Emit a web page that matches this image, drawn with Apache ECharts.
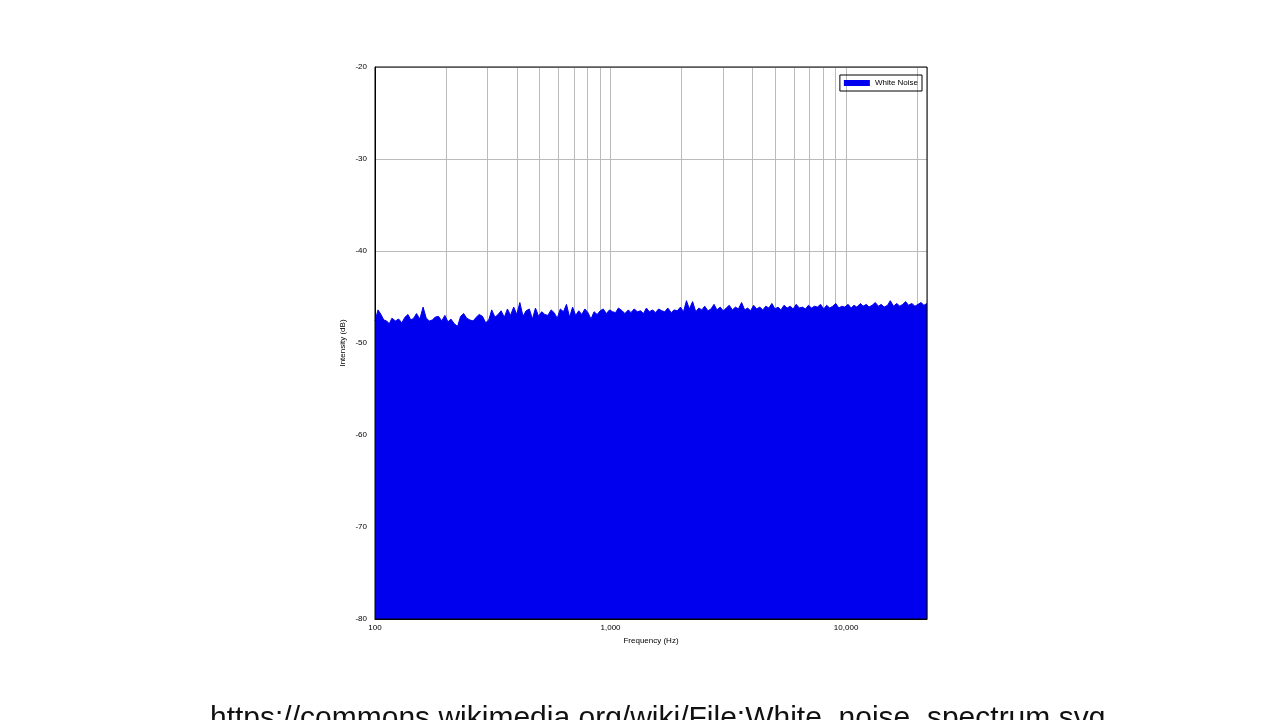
<!DOCTYPE html>
<html><head><meta charset="utf-8">
<script src="https://cdn.jsdelivr.net/npm/echarts@6/dist/echarts.min.js"></script>
<style>html,body{margin:0;padding:0;background:#fff;overflow:hidden}#c{width:1280px;height:720px}</style>
</head><body><div id="c"></div>
<script>
const freqs=[100,103,106,109,112,115,118,122,126,130,134,138,142,146,150,155,160,165,170,175,180,186,192,198,204,210,217,224,231,238,245,253,261,269,277,286,295,304,313,323,333,343,354,365,376,388,400,412,425,438,452,466,480,495,510,526,542,559,576,594,612,631,650,670,690,711,733,755,778,802,826,851,877,904,931,960,990,1020,1050,1080,1120,1150,1190,1220,1260,1300,1340,1380,1420,1460,1510,1550,1600,1650,1700,1750,1810,1860,1920,1980,2040,2100,2160,2230,2300,2370,2440,2510,2590,2670,2750,2830,2920,3010,3100,3190,3290,3390,3490,3600,3710,3820,3930,4050,4170,4300,4430,4560,4700,4840,4990,5140,5290,5450,5620,5790,5960,6140,6330,6520,6720,6920,7130,7340,7560,7790,8030,8270,8520,8780,9040,9310,9590,9880,10200,10500,10800,11100,11500,11800,12200,12500,12900,13300,13700,14100,14500,15000,15400,15900,16400,16900,17400,17900,18400,19000,19600,20200,20800,21400,22050];
const intensity=[-47.6,-46.4,-46.9,-47.5,-47.6,-47.9,-47.3,-47.6,-47.4,-47.8,-47.2,-46.9,-47.5,-47.3,-46.8,-47.4,-46.1,-47.3,-47.6,-47.5,-47.2,-47.1,-47.6,-47.0,-47.7,-47.4,-47.9,-48.2,-47.1,-46.8,-47.3,-47.5,-47.6,-47.2,-46.9,-47.1,-47.8,-47.5,-46.4,-47.2,-46.9,-46.5,-47.2,-46.3,-47.0,-46.1,-46.9,-45.6,-47.1,-46.5,-46.3,-47.4,-46.2,-47.1,-46.6,-46.9,-47.0,-46.4,-46.7,-47.3,-46.3,-46.6,-45.8,-47.2,-46.1,-47.0,-46.5,-46.9,-46.3,-46.7,-47.4,-46.6,-46.9,-46.5,-46.3,-46.8,-46.4,-46.6,-46.7,-46.2,-46.5,-46.8,-46.4,-46.7,-46.3,-46.6,-46.5,-46.8,-46.2,-46.6,-46.4,-46.7,-46.3,-46.5,-46.6,-46.2,-46.7,-46.4,-46.5,-46.1,-46.6,-45.4,-46.3,-45.5,-46.6,-46.2,-46.4,-46.0,-46.5,-46.3,-45.8,-46.4,-46.1,-46.5,-46.2,-45.9,-46.4,-46.1,-46.3,-45.6,-46.4,-46.2,-46.5,-45.9,-46.3,-46.1,-46.4,-46.0,-46.2,-45.7,-46.3,-46.1,-46.4,-45.9,-46.2,-46.0,-46.3,-45.8,-46.2,-46.1,-46.3,-45.9,-46.2,-46.0,-46.1,-45.8,-46.3,-45.9,-46.2,-46.0,-45.7,-46.2,-46.0,-46.1,-45.8,-46.2,-45.9,-46.1,-45.7,-46.0,-45.8,-46.1,-45.9,-45.6,-46.0,-45.8,-46.1,-45.9,-45.4,-46.0,-45.7,-46.0,-45.8,-45.5,-45.9,-45.7,-46.0,-45.8,-45.6,-45.9,-45.7,-45.5,-45.9,-45.7];
const minorGrid=[200,300,400,500,600,700,800,900,2000,3000,4000,5000,6000,7000,8000,9000,20000];
const yTicks={min:-80,max:-20,interval:10};
const f='"Liberation Sans", Arial, sans-serif';
const chart=echarts.init(document.getElementById('c'));
chart.setOption({
  animation:false,
  grid:{left:375,top:67,width:552,height:552},
  legend:{right:358,top:75,itemWidth:26,itemHeight:6,textStyle:{fontSize:8,fontFamily:f,color:'#000'},borderColor:'#000',borderWidth:1,padding:[4,4,4,4],icon:'rect',
    data:[{name:'White Noise'}],align:'left'},
  xAxis:{type:'log',logBase:10,min:100,max:22050,name:'Frequency (Hz)',nameLocation:'middle',nameGap:16,
    nameTextStyle:{fontSize:8,fontFamily:f,color:'#000'},
    axisLine:{lineStyle:{color:'#000',width:1}},axisTick:{show:false},
    axisLabel:{fontSize:8,fontFamily:f,color:'#000',margin:5,showMaxLabel:false},
    splitLine:{show:true,lineStyle:{color:'#bbb',width:1}}},
  yAxis:{type:'value',min:yTicks.min,max:yTicks.max,interval:yTicks.interval,name:'Intensity (dB)',nameLocation:'middle',nameGap:28,
    nameTextStyle:{fontSize:8,fontFamily:f,color:'#000'},
    axisLine:{show:true,lineStyle:{color:'#000'}},axisTick:{show:false},
    axisLabel:{fontSize:8,fontFamily:f,color:'#000',margin:8},
    splitLine:{lineStyle:{color:'#bbb',width:1}}},
  graphic:[{type:'rect',shape:{x:375,y:67,width:552,height:552},style:{fill:null,stroke:'#000',lineWidth:1},z:100},
    {type:'text',left:210,top:704,style:{text:'https://commons.wikimedia.org/wiki/File:White_noise_spectrum.svg',font:'30px "Liberation Sans", Arial, sans-serif',fill:'#111'}}],
  series:[{name:'White Noise',type:'line',symbol:'none',data:freqs.map((x,i)=>[x,intensity[i]]),
    lineStyle:{color:'#0000ee',width:1},itemStyle:{color:'#0000ee'},
    areaStyle:{color:'#0000ee',opacity:1,origin:'start'},
    markLine:{silent:true,symbol:'none',label:{show:false},lineStyle:{color:'#bbb',type:'solid',width:1},z:-1,
      data:minorGrid.map(v=>({xAxis:v}))}}]
});
</script></body></html>
